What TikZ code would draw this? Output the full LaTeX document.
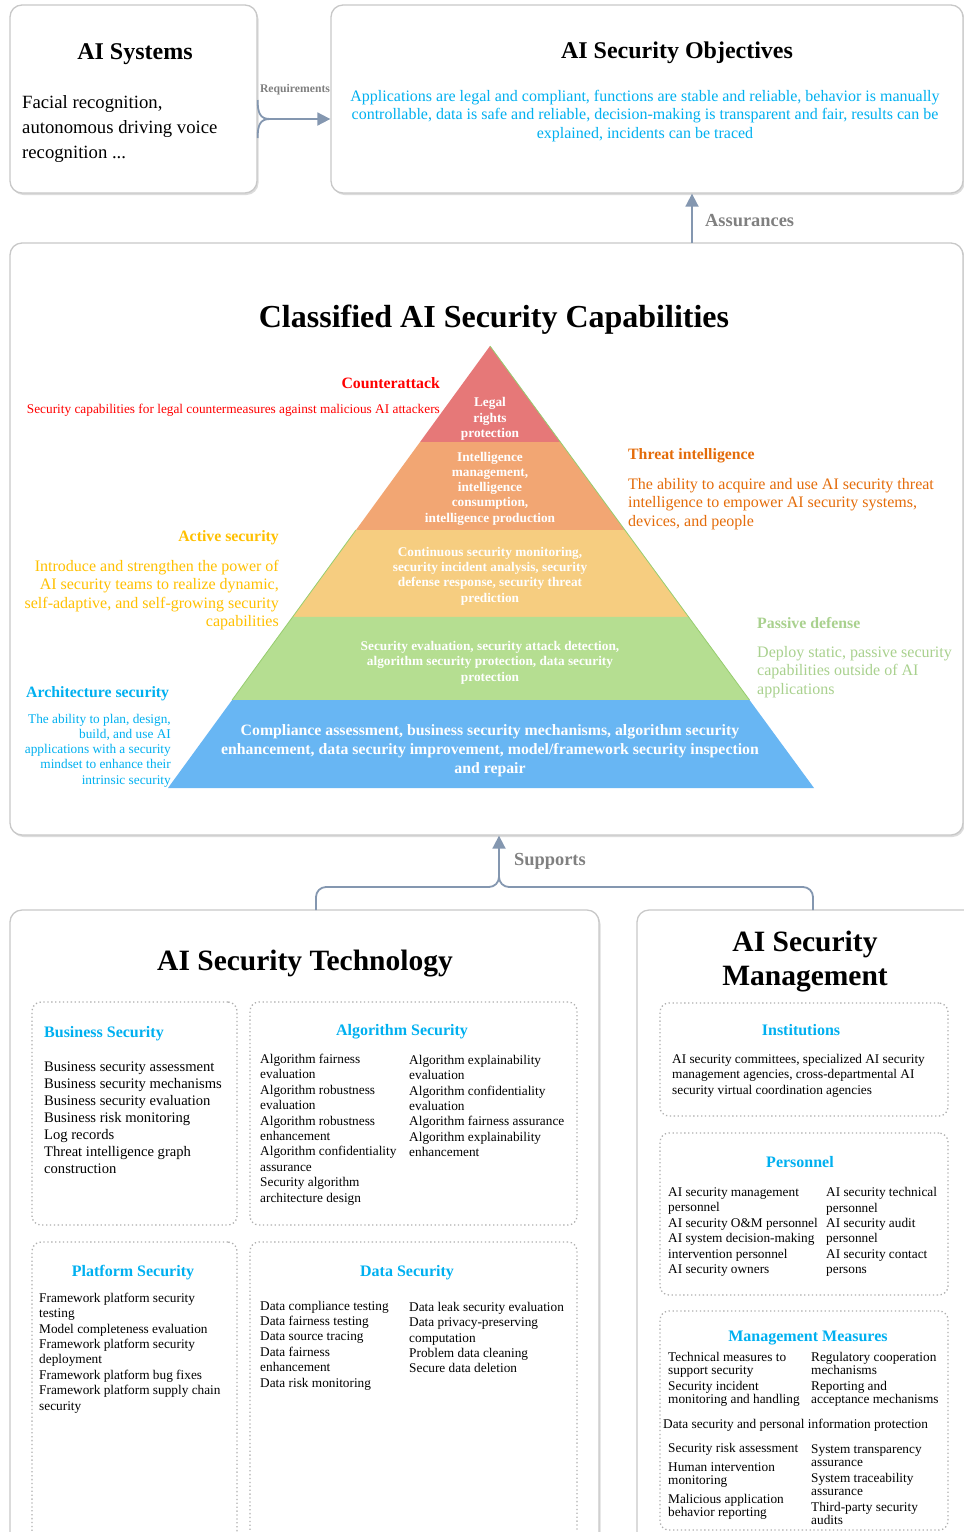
\documentclass[tikz,border=0pt]{standalone}
\usepackage{fontspec}
\setmainfont{Liberation Serif}
\usetikzlibrary{arrows.meta}
\usetikzlibrary{calc}
\usetikzlibrary{shadows}

\definecolor{boxgray}{RGB}{200,200,200}
\definecolor{dotgray}{RGB}{175,175,175}
\definecolor{flowgray}{RGB}{132,151,176}
\definecolor{labelgray}{RGB}{128,128,128}
\definecolor{skyblue}{RGB}{0,176,240}
\definecolor{capred}{RGB}{255,0,0}
\definecolor{threatorange}{RGB}{228,108,10}
\definecolor{activegold}{RGB}{255,192,0}
\definecolor{passivegreen}{RGB}{169,209,142}
\definecolor{pyrred}{RGB}{230,120,120}
\definecolor{pyrorange}{RGB}{242,166,115}
\definecolor{pyryellow}{RGB}{246,205,128}
\definecolor{pyrgreen}{RGB}{181,222,145}
\definecolor{pyredge}{RGB}{150,205,110}
\definecolor{pyrblue}{RGB}{104,182,243}

\newcommand\fsz[2]{\fontsize{#1}{#2}\selectfont}

\tikzset{
  boxframe/.style={draw=boxgray, line width=1.3pt, rounded corners=12pt, fill=white,
    drop shadow={shadow xshift=1.5pt, shadow yshift=-2pt, opacity=0.3, fill=black!45}},
  dotframe/.style={draw=dotgray, line width=1.3pt, dash pattern=on 1.3pt off 2.6pt, rounded corners=9pt},
  flow/.style={draw=flowgray, line width=1.8pt},
  flowtip/.style={-{Triangle[width=13pt,length=13pt]}},
  flowlabel/.style={font=\bfseries\fsz{18.4}{20}, text=labelgray, anchor=west},
  bigtitle/.style={font=\bfseries\fsz{29.5}{34}, align=center},
  boxtitle/.style={font=\bfseries\fsz{24}{28}},
  subhead/.style={font=\bfseries\fsz{16}{18}, text=skyblue},
  item/.style={font=\fsz{13.3}{15.4}, align=left, anchor=west},
  sidehead/.style={font=\bfseries\fsz{15.8}{18}},
  sidetext/.style={font=\fsz{16}{18.5}},
  pyrtext/.style={font=\bfseries\fsz{13.3}{15.3}, text=white, align=center},
}

\begin{document}
\begin{tikzpicture}[x=1pt, y=-1pt, every node/.style={inner sep=0pt}]
\useasboundingbox (0,0) rectangle (964,1532);
\clip (0,0) rectangle (964,1532);

% top row
\node[boxframe, minimum width=247pt, minimum height=188pt] (sys) at (133.5,99) {};
\node[boxframe, minimum width=632pt, minimum height=188pt] (obj) at (647,99) {};
\node[boxtitle] (systitle) at (135,54) {AI Systems};
\node[font=\fsz{18.7}{25}, align=left, anchor=west] (systext) at (22,129.5) {Facial recognition,\\autonomous driving voice\\recognition ...};
\node[boxtitle] (objtitle) at (677,53) {AI Security Objectives};
\node[font=\fsz{16}{18.5}, align=center, text=skyblue] (objtext) at (645,116) {Applications are legal and compliant, functions are stable and reliable, behavior is manually\\controllable, data is safe and reliable, decision-making is transparent and fair, results can be\\explained, incidents can be traced};

% capabilities
\node[boxframe, minimum width=953pt, minimum height=592pt] (cap) at (486.5,539) {};
\node[font=\bfseries\fsz{32}{36}] (captitle) at (494,320) {Classified AI Security Capabilities};

\coordinate (apex) at (490,346);
\coordinate (baseL) at (168,788);
\coordinate (baseR) at (814,788);
\foreach \ta/\tb/\col in {0/0.2172/pyrred, 0.2172/0.4163/pyrorange, 0.4163/0.6131/pyryellow, 0.6131/0.8009/pyrgreen, 0.8009/1/pyrblue}
  \fill[\col] ($(apex)!\ta!(baseL)$) -- ($(apex)!\tb!(baseL)$) -- ($(apex)!\tb!(baseR)$) -- ($(apex)!\ta!(baseR)$) -- cycle;
\draw[pyredge, line width=0.8pt] ($(apex)!0.8009!(baseL)$) -- ($(apex)!0.4163!(baseL)$);
\draw[pyredge, line width=0.8pt] (apex) -- ($(apex)!0.8009!(baseR)$);

\node[pyrtext] (lvlone) at (490,419) {Legal\\rights\\protection};
\node[pyrtext] (lvltwo) at (490,488.5) {Intelligence\\management,\\intelligence\\consumption,\\intelligence production};
\node[pyrtext] (lvlthree) at (490,576) {Continuous security monitoring,\\security incident analysis, security\\defense response, security threat\\prediction};
\node[pyrtext] (lvlfour) at (490,662.5) {Security evaluation, security attack detection,\\algorithm security protection, data security\\protection};
\node[pyrtext, font=\bfseries\fsz{15.8}{19}] (lvlfive) at (490,751) {Compliance assessment, business security mechanisms, algorithm security\\enhancement, data security improvement, model/framework security inspection\\and repair};

\node[sidehead, text=capred, anchor=east] (cahead) at (440,383) {Counterattack};
\node[font=\fsz{13.3}{15}, text=capred, anchor=east] (catext) at (440,410) {Security capabilities for legal countermeasures against malicious AI attackers};
\node[sidehead, text=threatorange, anchor=west] (tihead) at (628,456) {Threat intelligence};
\node[sidetext, text=threatorange, anchor=west, align=left] (titext) at (628,504) {The ability to acquire and use AI security threat\\intelligence to empower AI security systems,\\devices, and people};
\node[sidehead, text=activegold, anchor=east] (ashead) at (279,538) {Active security};
\node[sidetext, text=activegold, anchor=east, align=right] (astext) at (279,595) {Introduce and strengthen the power of\\AI security teams to realize dynamic,\\self-adaptive, and self-growing security\\capabilities};
\node[sidehead, text=passivegreen, anchor=west] (pdhead) at (757,623) {Passive defense};
\node[sidetext, text=passivegreen, anchor=west, align=left] (pdtext) at (757,672) {Deploy static, passive security\\capabilities outside of AI\\applications};
\node[sidehead, text=skyblue, anchor=west] (arhead) at (26,694) {Architecture security};
\node[font=\fsz{13.3}{15.25}, text=skyblue, anchor=east, align=right] (artext) at (171,750.5) {The ability to plan, design,\\build, and use AI\\applications with a security\\mindset to enhance their\\intrinsic security};

% technology and management
\node[boxframe, minimum width=589pt, minimum height=640pt] (tech) at (304.5,1230) {};
\node[boxframe, minimum width=348pt, minimum height=640pt] (mgmt) at (811,1230) {};
\node[bigtitle] (techtitle) at (305,964) {AI Security Technology};
\node[bigtitle] (mgmttitle) at (805,962) {AI Security\\Management};

\node[dotframe, minimum width=205pt, minimum height=223pt] (bus) at (134.5,1113.5) {};
\node[dotframe, minimum width=327pt, minimum height=223pt] (alg) at (413.5,1113.5) {};
\node[dotframe, minimum width=205pt, minimum height=303pt] (plat) at (134.5,1393.5) {};
\node[dotframe, minimum width=327pt, minimum height=303pt] (dat) at (413.5,1393.5) {};
\node[dotframe, minimum width=288pt, minimum height=113pt] (inst) at (804,1059.5) {};
\node[dotframe, minimum width=288pt, minimum height=162pt] (pers) at (804,1214) {};
\node[dotframe, minimum width=288pt, minimum height=219pt] (meas) at (804,1420.5) {};

\node[subhead, anchor=west] (bushead) at (44,1034) {Business Security};
\node[item, font=\fsz{14.6}{17}] (busitems) at (44,1117.5) {Business security assessment\\Business security mechanisms\\Business security evaluation\\Business risk monitoring\\Log records\\Threat intelligence graph\\construction};

\node[subhead] (alghead) at (402,1032) {Algorithm Security};
\node[item] (algleft) at (260,1129.5) {Algorithm fairness\\evaluation\\Algorithm robustness\\evaluation\\Algorithm robustness\\enhancement\\Algorithm confidentiality\\assurance\\Security algorithm\\architecture design};
\node[item] (algright) at (409,1106) {Algorithm explainability\\evaluation\\Algorithm confidentiality\\evaluation\\Algorithm fairness assurance\\Algorithm explainability\\enhancement};

\node[subhead] (plathead) at (133,1273) {Platform Security};
\node[item] (platitems) at (39,1353) {Framework platform security\\testing\\Model completeness evaluation\\Framework platform security\\deployment\\Framework platform bug fixes\\Framework platform supply chain\\security};

\node[subhead] (dathead) at (407,1273) {Data Security};
\node[item] (datleft) at (260,1345.5) {Data compliance testing\\Data fairness testing\\Data source tracing\\Data fairness\\enhancement\\Data risk monitoring};
\node[item] (datright) at (409,1337.5) {Data leak security evaluation\\Data privacy-preserving\\computation\\Problem data cleaning\\Secure data deletion};

\node[subhead] (insthead) at (801,1030) {Institutions};
\node[item] (institems) at (672,1075.5) {AI security committees, specialized AI security\\management agencies, cross-departmental AI\\security virtual coordination agencies};

\node[subhead] (pershead) at (800,1162) {Personnel};
\node[item] (persleft) at (668,1232) {AI security management\\personnel\\AI security O\&M personnel\\AI system decision-making\\intervention personnel\\AI security owners};
\node[item] (persright) at (826,1232) {AI security technical\\personnel\\AI security audit\\personnel\\AI security contact\\persons};

\node[subhead] (meashead) at (808,1338) {Management Measures};
\node[item, font=\fsz{13.3}{13}] (measlefttop) at (668,1379) {Technical measures to\\support security\\[3pt]Security incident\\monitoring and handling};
\node[item, font=\fsz{13.3}{13}] (measrighttop) at (811,1379) {Regulatory cooperation\\mechanisms\\[3pt]Reporting and\\acceptance mechanisms};
\node[item] (measmid) at (663,1425) {Data security and personal information protection};
\node[item, font=\fsz{13.3}{13}] (measleftbot) at (668,1481) {Security risk assessment\\[6pt]Human intervention\\monitoring\\[6pt]Malicious application\\behavior reporting};
\node[item, font=\fsz{13.3}{13}] (measrightbot) at (811,1485) {System transparency\\assurance\\[3pt]System traceability\\assurance\\[3pt]Third-party security\\audits};

% connectors
\coordinate (reqjoin) at (270,119);
\draw[flow] ($(sys.east)+(0,1)$) .. controls +(0,13) and +(-10,0) .. (reqjoin);
\draw[flow] ($(sys.east)+(0,39)$) .. controls +(0,-13) and +(-10,0) .. (reqjoin);
\draw[flow, flowtip] (reqjoin) -- (obj.west |- reqjoin);
\node[font=\bfseries\fsz{11.7}{13}, text=labelgray] (reqlbl) at (295,90) {Requirements};

\coordinate (asrfoot) at (692,243);
\draw[flow, flowtip] (asrfoot) -- (asrfoot |- obj.south);
\node[flowlabel] (asrlbl) at (705,221) {Assurances};

\coordinate (suphub) at (499,887);
\coordinate (techtop) at (316,910);
\coordinate (mgmttop) at (813,910);
\draw[flow, rounded corners=10pt] (mgmttop) |- (suphub) -- ++(0,-12);
\draw[flow, flowtip, rounded corners=10pt] (techtop) |- (suphub) -- (suphub |- cap.south);
\node[flowlabel] (suplbl) at (514,861) {Supports};
\end{tikzpicture}
\end{document}
